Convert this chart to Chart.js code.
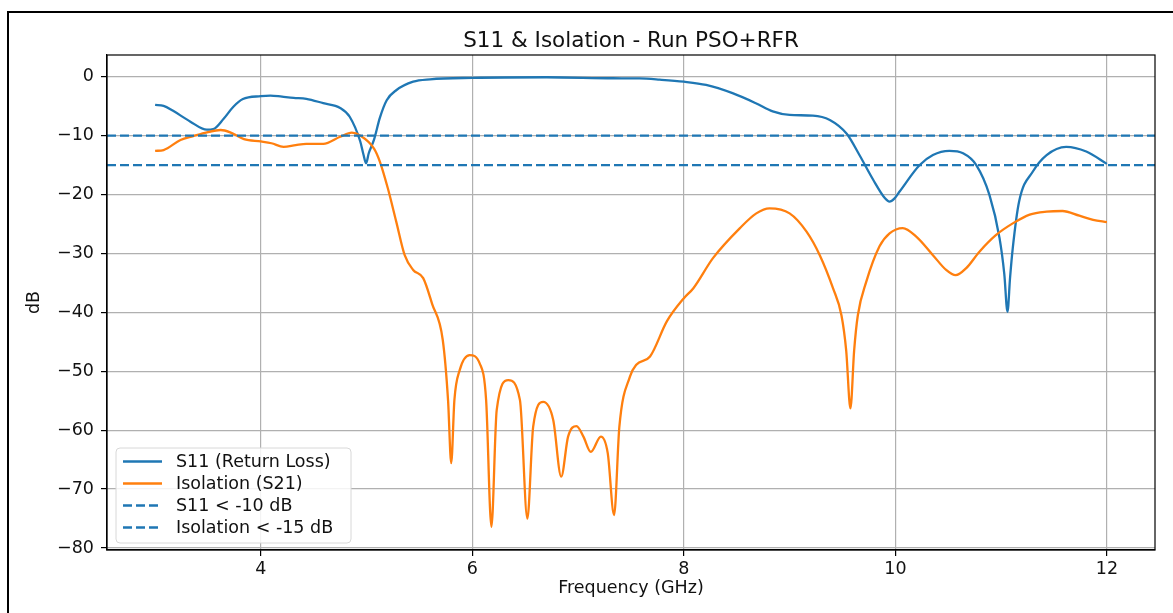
<!DOCTYPE html>
<html>
<head>
<meta charset="utf-8">
<title>S11 &amp; Isolation - Run PSO+RFR</title>
<script src="https://cdn.jsdelivr.net/npm/chart.js@4.4.1/dist/chart.umd.min.js"></script>
<style>
  html, body { margin: 0; padding: 0; background: #fff; }
  #wrap { position: relative; width: 1173px; height: 613px; }
  #frame { position: absolute; left: 7px; top: 11px; right: 0; bottom: 0; border-top: 2px solid #000; border-left: 2px solid #000; }
  #wrap canvas { position: absolute; left: 0; top: 0; }
</style>
</head>
<body>
<div id="wrap">
  <div id="frame"></div>
  <canvas id="sparam-chart" width="1173" height="613"></canvas>
</div>
<script>
// S11 sweep (GHz / dB)
const s11Freq = [3.0, 3.08, 3.17, 3.33, 3.49, 3.55, 3.65, 3.74, 3.83, 4.0, 4.09, 4.2, 4.31, 4.43, 4.59, 4.75, 4.84,
  4.94, 4.97, 4.995, 5.02, 5.07, 5.125, 5.19, 5.28, 5.44, 5.6, 6.0, 6.7, 7.33, 7.58, 7.77, 8.0, 8.21, 8.46, 8.68,
  8.84, 9.0, 9.22, 9.38, 9.54, 9.66, 9.79, 9.9, 9.945, 9.99, 10.04, 10.23, 10.355, 10.51, 10.64, 10.765, 10.89,
  10.985, 11.03, 11.06, 11.085, 11.11, 11.17, 11.3, 11.43, 11.615, 11.805, 12.0];
const s11Db = [-4.8, -4.95, -5.8, -7.6, -9.0, -8.9, -7.1, -5.1, -3.8, -3.3, -3.2, -3.4, -3.6, -3.75, -4.5, -5.3, -6.8,
  -11.0, -13.2, -14.7, -13.0, -10.7, -7.0, -4.0, -2.3, -0.85, -0.45, -0.2, -0.1, -0.27, -0.3, -0.5, -0.85, -1.4, -2.8, -4.5,
  -5.9, -6.5, -6.6, -7.35, -9.7, -13.3, -17.5, -20.6, -21.2, -20.7, -19.5, -15.0, -13.3, -12.6, -13.0, -15.0, -20.1,
  -27.4, -33.5, -39.9, -34.0, -29.1, -21.2, -16.1, -13.3, -11.9, -12.7, -14.8];

// Isolation (S21) sweep (GHz / dB)
const isoFreq = [3.0, 3.08, 3.24, 3.36, 3.49, 3.62, 3.71, 3.84, 4.0, 4.1, 4.215, 4.33, 4.43, 4.59, 4.75, 4.86, 4.94,
  5.07, 5.125, 5.2, 5.28, 5.36, 5.44, 5.535, 5.62, 5.72, 5.77, 5.80, 5.83, 5.88, 5.975, 6.07, 6.13, 6.18, 6.23, 6.34,
  6.45, 6.52, 6.575, 6.67, 6.765, 6.84, 6.905, 6.985, 7.05, 7.12, 7.215, 7.28, 7.34, 7.39, 7.49, 7.55, 7.68, 7.84,
  8.0, 8.09, 8.275, 8.53, 8.685, 8.81, 9.0, 9.16, 9.285, 9.41, 9.49, 9.535, 9.575, 9.61, 9.645, 9.725, 9.85, 9.945,
  10.07, 10.2, 10.355, 10.48, 10.57, 10.67, 10.795, 10.95, 11.11, 11.27, 11.43, 11.58, 11.74, 11.87, 12.0];
const isoDb = [-12.6, -12.45, -10.75, -10.1, -9.45, -9.05, -9.45, -10.6, -11.0, -11.3, -11.9, -11.6, -11.4, -11.4, -10.2, -9.5, -10.0,
  -12.2, -14.4, -18.9, -24.6, -30.3, -32.8, -34.2, -38.6, -44.7, -54.9, -65.6, -54.9, -49.8, -47.25, -48.7, -54.9, -76.4, -56.6, -51.5,
  -54.9, -75.0, -59.4, -55.2, -58.3, -67.9, -61.1, -59.3, -61.1, -63.7, -61.1, -63.9, -74.4, -59.4, -50.9, -48.9, -47.5, -41.5,
  -37.6, -35.9, -30.8, -25.7, -23.2, -22.35, -23.2, -26.3, -30.3, -35.9, -40.5, -46.5, -56.3, -46.5, -40.5, -34.8, -28.8, -26.6,
  -25.7, -27.2, -30.3, -32.8, -33.7, -32.5, -29.7, -26.9, -24.9, -23.4, -22.9, -22.8, -23.6, -24.3, -24.7];

// spec limits
const s11Limit = -10;
const isoLimit = -15;

// axes
const xRange = [2.545, 12.455];
const yRange = [-80.34, 3.68];
const xTicks = [4, 6, 8, 10, 12];
const yTicks = [-80, -70, -60, -50, -40, -30, -20, -10, 0];

const FONT = "'DejaVu Sans', sans-serif";
const TEXT_SIZE = 17.5;
const BLUE = '#1f77b4';
const ORANGE = '#ff7f0e';

const toPoints = (xs, ys) => xs.map((x, i) => ({ x: x, y: ys[i] }));

// frame, title and legend drawn the matplotlib way (legend inside the axes)
const figureDecor = {
  id: 'figureDecor',
  afterDraw(chart) {
    const ctx = chart.ctx;
    const a = chart.chartArea;
    ctx.save();

    ctx.strokeStyle = '#000';
    ctx.lineWidth = 1.2;
    ctx.strokeRect(a.left, a.top, a.right - a.left, a.bottom - a.top);

    ctx.fillStyle = '#111';
    ctx.font = '21.5px ' + FONT;
    ctx.textAlign = 'center';
    ctx.textBaseline = 'alphabetic';
    ctx.fillText('S11 & Isolation - Run PSO+RFR', (a.left + a.right) / 2, 47);

    const bx = a.left + 9, bw = 235, bh = 95;
    const by = a.bottom - 7 - bh;
    ctx.beginPath();
    ctx.roundRect(bx, by, bw, bh, 4);
    ctx.fillStyle = 'rgba(255,255,255,0.85)';
    ctx.fill();
    ctx.strokeStyle = '#d8d8d8';
    ctx.lineWidth = 1;
    ctx.stroke();

    ctx.font = TEXT_SIZE + 'px ' + FONT;
    ctx.textAlign = 'left';
    ctx.textBaseline = 'middle';
    chart.data.datasets.forEach((ds, i) => {
      const y = by + 13.5 + i * 22;
      ctx.beginPath();
      ctx.setLineDash(ds.borderDash || []);
      ctx.strokeStyle = ds.borderColor;
      ctx.lineWidth = ds.borderWidth;
      ctx.moveTo(bx + 7, y);
      ctx.lineTo(bx + 46, y);
      ctx.stroke();
      ctx.setLineDash([]);
      ctx.fillStyle = '#111';
      ctx.fillText(ds.label, bx + 60, y + 1);
    });
    ctx.restore();
  }
};

const config = {
  type: 'line',
  data: {
    datasets: [
      {
        label: 'S11 (Return Loss)',
        data: toPoints(s11Freq, s11Db),
        borderColor: BLUE,
        borderWidth: 2.3,
        pointRadius: 0,
        cubicInterpolationMode: 'monotone',
        order: 4,
      },
      {
        label: 'Isolation (S21)',
        data: toPoints(isoFreq, isoDb),
        borderColor: ORANGE,
        borderWidth: 2.3,
        pointRadius: 0,
        cubicInterpolationMode: 'monotone',
        order: 3,
      },
      {
        label: 'S11 < -10 dB',
        data: toPoints(xRange, [s11Limit, s11Limit]),
        borderColor: BLUE,
        borderWidth: 2.3,
        borderDash: [9, 4],
        pointRadius: 0,
        order: 2,
      },
      {
        label: 'Isolation < -15 dB',
        data: toPoints(xRange, [isoLimit, isoLimit]),
        borderColor: BLUE,
        borderWidth: 2.3,
        borderDash: [9, 4],
        pointRadius: 0,
        order: 1,
      },
    ],
  },
  options: {
    responsive: false,
    animation: false,
    layout: {
      padding: { top: 55, right: 18, left: 0, bottom: 0 },
    },
    plugins: {
      legend: { display: false },
      title: { display: false },
      tooltip: { enabled: false },
    },
    scales: {
      x: {
        type: 'linear',
        min: xRange[0],
        max: xRange[1],
        afterBuildTicks: (axis) => { axis.ticks = xTicks.map((v) => ({ value: v })); },
        afterFit: (axis) => { axis.height = 63; },
        grid: {
          color: '#b0b0b0',
          lineWidth: 1.2,
          tickColor: '#000',
          tickLength: 6,
        },
        border: { color: '#000', width: 1.2 },
        ticks: {
          color: '#111',
          padding: 3,
          maxRotation: 0,
          font: { family: FONT, size: TEXT_SIZE },
        },
        title: {
          display: true,
          text: 'Frequency (GHz)',
          color: '#111',
          font: { family: FONT, size: TEXT_SIZE },
          padding: { top: 0, bottom: 14 },
        },
      },
      y: {
        type: 'linear',
        min: yRange[0],
        max: yRange[1],
        afterBuildTicks: (axis) => { axis.ticks = yTicks.map((v) => ({ value: v })); },
        afterFit: (axis) => { axis.width = 107; },
        grid: {
          color: '#b0b0b0',
          lineWidth: 1.2,
          tickColor: '#000',
          tickLength: 6,
        },
        border: { color: '#000', width: 1.2 },
        ticks: {
          color: '#111',
          padding: 7,
          font: { family: FONT, size: TEXT_SIZE },
          callback: (v) => (v < 0 ? '\u2212' + Math.abs(v) : String(v)),
        },
        title: {
          display: true,
          text: 'dB',
          color: '#111',
          font: { family: FONT, size: TEXT_SIZE },
          padding: { top: 24, bottom: 0 },
        },
      },
    },
  },
  plugins: [figureDecor],
};

new Chart(document.getElementById('sparam-chart').getContext('2d'), config);
</script>
</body>
</html>
